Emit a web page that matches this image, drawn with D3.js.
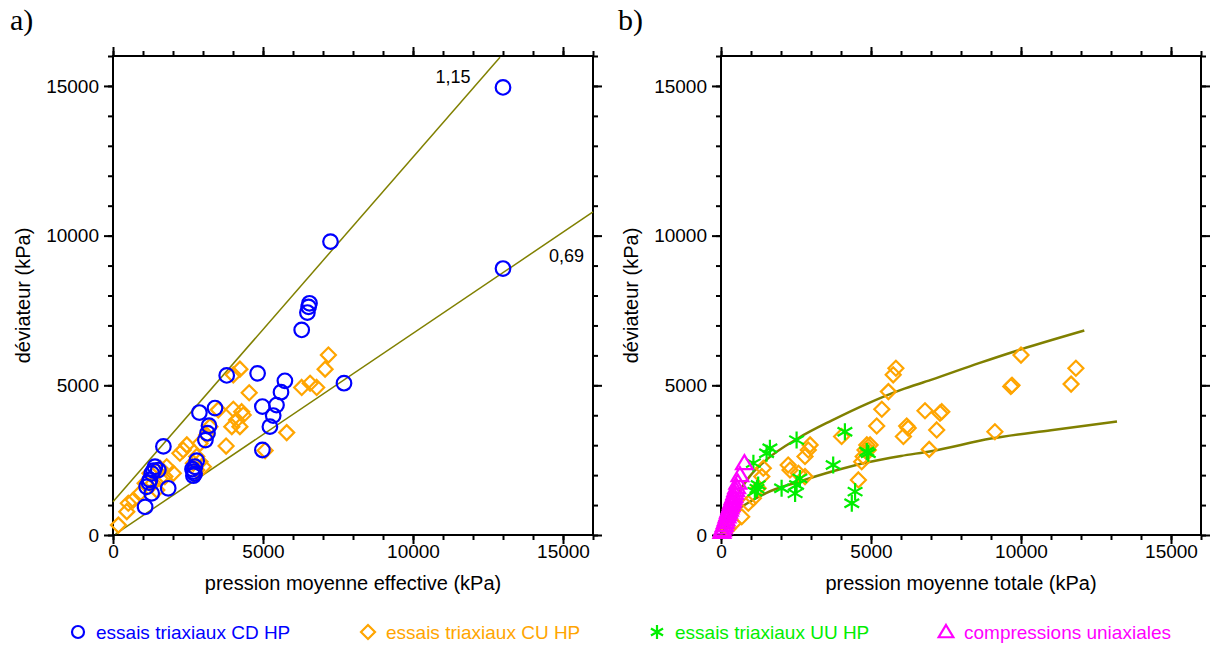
<!DOCTYPE html>
<html><head><meta charset="utf-8">
<script src="https://cdn.jsdelivr.net/npm/d3@7"></script>
<style>
body{margin:0;background:#fff}
</style>
</head><body>
<svg id="c" width="1215" height="648"></svg>
<script>
// ---------- data (p = mean pressure kPa, q = deviator kPa) ----------
const xTicks = [0, 5000, 10000, 15000];
const yTicks = [0, 5000, 10000, 15000];
const axisMax = 16000;

// panel a : essais triaxiaux CD HP (effective)
const cdA = [[13000,14950],[13000,8900],[7250,9800],[6550,7740],[6520,7620],[6480,7430],[6290,6850],
  [7700,5070],[4820,5400],[3790,5330],[5730,5150],[5600,4770],[5450,4340],[4980,4290],[5340,3990],
  [5230,3620],[4980,2840],[2880,4090],[3400,4240],[3200,3650],[3150,3400],[3080,3170],[1680,2960],
  [2680,2120],[2680,1980],[2730,2280],[2790,2480],[2720,2050],[1400,2280],[1290,2060],[1230,1840],
  [1120,1610],[1290,1390],[1070,940],[1840,1560],[1510,2170],[1350,2150],[1200,1750],[2650,2200]];
// panel a : essais triaxiaux CU HP (effective)
const cuA = [[7180,6010],[7070,5540],[4230,5540],[4010,5350],[4540,4750],[6290,4930],[6570,5070],
  [6790,4930],[4010,4200],[4290,4120],[4340,4010],[4120,3840],[3960,3620],[4230,3620],[5790,3420],
  [3770,2970],[5070,2820],[3510,4180],[3230,3620],[3120,3340],[2900,3060],[2790,2620],[2460,3010],
  [2340,2840],[2230,2730],[2680,2400],[2900,2450],[3010,2280],[2790,2170],[1790,2280],[1730,1950],
  [1570,2230],[1230,2060],[1070,1730],[900,1390],[680,1170],[510,1060],[460,780],[180,330],
  [1340,1730],[1570,1890],[2010,2060],[1460,1500]];
// panel a : fitted lines (slopes 1,15 and 0,69)
const lineUpperA = [[0,1110],[12900,15960]];
const lineLowerA = [[80,30],[16000,10790]];

// panel b : essais triaxiaux CU HP (total)
const cuB = [[5830,5570],[5740,5350],[5580,4790],[5360,4200],[5190,3640],[6190,3640],[6080,3290],
  [6240,3570],[6800,4150],[7300,4070],[7360,4120],[7190,3510],[6940,2860],[9130,3450],[9660,4960],
  [10000,6010],[11830,5570],[11670,5040],[4970,3010],[4910,2840],[4860,3010],[4800,2840],[4740,2620],
  [4690,2450],[4580,1840],[4020,3290],[2970,3010],[2910,2840],[2800,2620],[2240,2340],[2300,2170],
  [1410,2230],[1360,1950],[1240,1560],[1080,1230],[910,1060],[690,610],[410,390],[240,220],
  [2580,2060],[2800,1950],[9700,5000]];
// panel b : essais triaxiaux UU HP
const uuB = [[4130,3450],[2520,3170],[1630,2900],[1520,2730],[1080,2400],[3740,2340],[4910,2730],
  [4860,2790],[1240,1670],[1130,1450],[2020,1560],[2470,1390],[2630,1890],[2520,1670],[4470,1450],
  [4360,1060],[1200,1550]];
// panel b : compressions uniaxiales
const ucB = [[780,2400],[630,2000],[560,1750],[520,1600],[490,1500],[460,1400],[430,1300],[400,1230],
  [380,1150],[350,1080],[330,1000],[300,920],[280,850],[250,780],[230,700],[200,620],[170,520],
  [140,430],[110,340],[80,250],[50,160],[30,100]];
// panel b : fitted curves
const curveUpperB = [[0,0],[400,1050],[950,1950],[1500,2500],[2600,3250],[3700,3830],[4900,4400],
  [6000,4850],[7000,5180],[8600,5740],[10000,6200],[12110,6830]];
const curveLowerB = [[0,0],[400,680],[950,1100],[1500,1400],[2600,1780],[3700,2120],[4900,2430],
  [6000,2640],[7000,2800],[9000,3220],[11000,3500],[13200,3790]];

const legendItems = [
  {label:"essais triaxiaux CD HP", color:"#0000ff", sym:"circle"},
  {label:"essais triaxiaux CU HP", color:"#ffa500", sym:"diamond"},
  {label:"essais triaxiaux UU HP", color:"#00ee00", sym:"star"},
  {label:"compressions uniaxiales", color:"#ff00ff", sym:"triangle"}];

// ---------- drawing ----------
const SANS = '"Liberation Sans",Arial,sans-serif';
const SERIF = '"Liberation Serif","Times New Roman",serif';
const svg = d3.select("#c");
const W = 480, H = 479, TOP = 56;
const olive = "#808000";

function symPath(sym, r){
  if(sym==="diamond") return `M0,${-r}L${r},0L0,${r}L${-r},0Z`;
  if(sym==="triangle") return `M0,${-r}L${r*1.05},${r*0.75}L${-r*1.05},${r*0.75}Z`;
  if(sym==="star"){
    const a = r*Math.cos(Math.PI/6), b = r*Math.sin(Math.PI/6);
    return `M0,${-r}L0,${r}M${-a},${-b}L${a},${b}M${-a},${b}L${a},${-b}`;
  }
  return null;
}
function drawMarks(g, data, x, y, sym, color, r){
  if(sym==="circle"){
    g.selectAll(null).data(data).join("circle")
      .attr("cx",d=>x(d[0])).attr("cy",d=>y(d[1])).attr("r",r)
      .attr("fill","none").attr("stroke",color).attr("stroke-width",2.2);
  } else {
    g.selectAll(null).data(data).join("path")
      .attr("transform",d=>`translate(${x(d[0])},${y(d[1])})`)
      .attr("d",symPath(sym,r)).attr("fill","none")
      .attr("stroke",color).attr("stroke-width",2.2);
  }
}

function panel(left, letter, xTitle){
  const x = d3.scaleLinear().domain([0,axisMax]).range([left,left+W]);
  const y = d3.scaleLinear().domain([0,axisMax]).range([TOP+H,TOP]);
  const g = svg.append("g");
  const minor = d3.range(0,axisMax+1,1000);
  const makers = [()=>d3.axisBottom(x),()=>d3.axisTop(x),()=>d3.axisLeft(y),()=>d3.axisRight(y)];
  const trs = [`translate(0,${TOP+H})`,`translate(0,${TOP})`,`translate(${left},0)`,`translate(${left+W},0)`];
  makers.forEach((mk,i)=>{
    const isX = i<2, lab = (i===0||i===2);
    g.append("g").attr("transform",trs[i])
      .call(mk().tickValues(minor).tickSize(5).tickFormat(""))
      .call(s=>s.select(".domain").remove())
      .call(s=>s.selectAll("line").attr("stroke","#000").attr("stroke-width",2));
    const aM = mk().tickValues(isX?xTicks:yTicks).tickSize(9)
      .tickPadding(i===0?1:5).tickFormat(lab?d3.format("d"):"");
    g.append("g").attr("transform",trs[i]).call(aM)
      .call(s=>s.select(".domain").remove())
      .call(s=>s.selectAll("line").attr("stroke","#000").attr("stroke-width",2))
      .call(s=>s.selectAll("text").attr("font-size",19).attr("fill","#000")
        .style("font-family",SANS));
  });
  g.append("rect").attr("x",left).attr("y",TOP).attr("width",W).attr("height",H)
    .attr("fill","none").attr("stroke","#000").attr("stroke-width",2);
  g.append("text").attr("x",left+W/2).attr("y",590).attr("text-anchor","middle")
    .attr("font-size",20).style("font-family",SANS).text(xTitle);
  g.append("text").attr("transform",`translate(${left-83},${TOP+H/2}) rotate(-90)`)
    .attr("text-anchor","middle").attr("font-size",20).style("font-family",SANS).text("déviateur (kPa)");
  g.append("text").attr("x",left-103).attr("y",30).attr("font-size",30)
    .style("font-family",SERIF).text(letter);
  return {g,x,y};
}

// panel a
const A = panel(113, "a)", "pression moyenne effective (kPa)");
const lineGen = (x,y,curve)=>d3.line().x(d=>x(d[0])).y(d=>y(d[1])).curve(curve||d3.curveLinear);
[lineUpperA,lineLowerA].forEach(l=>A.g.append("path").attr("d",lineGen(A.x,A.y)(l))
  .attr("fill","none").attr("stroke",olive).attr("stroke-width",1.5));
drawMarks(A.g, cuA, A.x, A.y, "diamond", "#ffa500", 7.5);
drawMarks(A.g, cdA, A.x, A.y, "circle", "#0000ff", 7.3);
A.g.append("text").attr("x",A.x(10750)).attr("y",A.y(15100)).attr("font-size",18)
  .style("font-family",SANS).text("1,15");
A.g.append("text").attr("x",A.x(14530)).attr("y",A.y(9120)).attr("font-size",18)
  .style("font-family",SANS).text("0,69");

// panel b
const B = panel(721, "b)", "pression moyenne totale (kPa)");
[curveUpperB,curveLowerB].forEach(l=>B.g.append("path").attr("d",lineGen(B.x,B.y,d3.curveMonotoneX)(l))
  .attr("fill","none").attr("stroke",olive).attr("stroke-width",2.5));
drawMarks(B.g, cuB, B.x, B.y, "diamond", "#ffa500", 7.5);
drawMarks(B.g, uuB, B.x, B.y, "star", "#00ee00", 8.5);
drawMarks(B.g, ucB, B.x, B.y, "triangle", "#ff00ff", 8);

// legend
const legX = [78, 368, 657, 946];
const lg = svg.append("g");
legendItems.forEach((it,i)=>{
  const cx = legX[i], cy = 632;
  if(it.sym==="circle"){
    lg.append("circle").attr("cx",cx).attr("cy",cy).attr("r",6).attr("fill","none")
      .attr("stroke",it.color).attr("stroke-width",2.2);
  } else {
    lg.append("path").attr("transform",`translate(${cx},${cy})`).attr("d",symPath(it.sym,7))
      .attr("fill","none").attr("stroke",it.color).attr("stroke-width",2.2);
  }
  lg.append("text").attr("x",cx+18).attr("y",639).attr("font-size",19)
    .style("font-family",SANS).attr("fill",it.color).text(it.label);
});
</script>
</body></html>
